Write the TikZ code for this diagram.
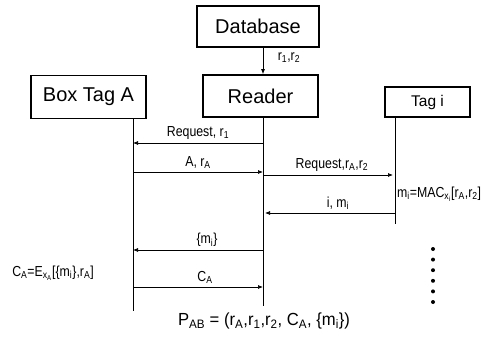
\documentclass[tikz,border=0pt]{standalone}
\usepackage{fontspec}
\setmainfont{Liberation Sans}
\newfontfamily\condfont[FakeStretch=0.85]{Liberation Sans}
\newfontfamily\pabfont[FakeStretch=0.95]{Liberation Sans}
\usetikzlibrary{arrows.meta}
\newcommand{\sbs}[1]{\textsubscript{#1}}
\begin{document}
\begin{tikzpicture}[x=1pt,y=-1pt,
  box/.style={draw, line width=1.8pt, inner sep=0pt, anchor=center},
  title/.style={font=\fontsize{20}{24}\selectfont},
  lbl/.style={font=\condfont\fontsize{14.5}{16}\selectfont, inner sep=1pt},
  life/.style={line width=0.7pt},
  msg/.style={line width=0.7pt, -{Latex[length=5pt,width=4pt]}},
  dotn/.style={circle, fill, inner sep=0pt, minimum size=4pt}]
\useasboundingbox (0,0) rectangle (488,337);

\node[box,title,minimum width=122pt,minimum height=41pt] (db) at (258,26.5) {Database};
\node[box,title,minimum width=115pt,minimum height=42pt] (reader) at (260.5,96) {Reader};
\node[box,title,minimum width=115pt,minimum height=43pt] (boxA) at (88.5,97) {Box Tag A};
\node[box,font=\fontsize{15.5}{18}\selectfont,minimum width=85pt,minimum height=30pt] (tagi) at (427.5,102) {Tag i};

\coordinate (Abot) at (133,311);
\coordinate (Rbot) at (263,306);
\coordinate (Tbot) at (395,224);
\draw[life] (boxA.south -| Abot) -- (Abot);
\draw[life] (reader.south -| Rbot) -- (Rbot);
\draw[life] (tagi.south -| Tbot) -- (Tbot);

\draw[msg] (db.south -| Rbot) -- (reader.north -| Rbot);
\node[lbl] (lr) at (289,58) {r\sbs{1},r\sbs{2}};

\coordinate (m1r) at (263,143); \coordinate (m1a) at (133,143);
\draw[msg] (m1r) -- (m1a) node[lbl, midway, above=2pt] (l1) {Request, r\sbs{1}};

\coordinate (m2a) at (133,172); \coordinate (m2r) at (263,172);
\draw[msg] (m2a) -- (m2r) node[lbl, midway, above=2pt] (l2) {A, r\sbs{A}};

\coordinate (m3r) at (263,175); \coordinate (m3t) at (393,175);
\draw[msg] (m3r) -- (m3t) node[lbl, midway, above=2pt, xshift=4pt] (l3) {Request,r\sbs{A},r\sbs{2}};

\coordinate (m4t) at (395,213); \coordinate (m4r) at (265,213);
\draw[msg] (m4t) -- (m4r) node[lbl, midway, above=2pt, xshift=8pt] (l4) {i, m\sbs{i}};

\node[lbl, anchor=west] (mac) at (396,194) {m\sbs{i}=MAC\sbs{x\sbs{i}}[r\sbs{A},r\sbs{2}]};

\coordinate (m5r) at (263,250); \coordinate (m5a) at (133,250);
\draw[msg] (m5r) -- (m5a) node[lbl, midway, above=2pt, xshift=9pt] (l5) {\{m\sbs{i}\}};

\coordinate (m6a) at (133,287); \coordinate (m6r) at (263,287);
\draw[msg] (m6a) -- (m6r) node[lbl, midway, above=2pt, xshift=7pt] (l6) {C\sbs{A}};

\node[lbl] (ca) at (53,273) {C\sbs{A}=E\sbs{x\sbs{A}}[\{m\sbs{i}\},r\sbs{A}]};

\foreach \i in {0,...,5} {
  \node[dotn] (d\i) at (433,249+10.6*\i) {};
}

\node[font=\pabfont\fontsize{17.5}{20}\selectfont] (pab) at (264,321) {P\sbs{AB} = (r\sbs{A},r\sbs{1},r\sbs{2}, C\sbs{A}, \{m\sbs{i}\})};
\end{tikzpicture}
\end{document}
